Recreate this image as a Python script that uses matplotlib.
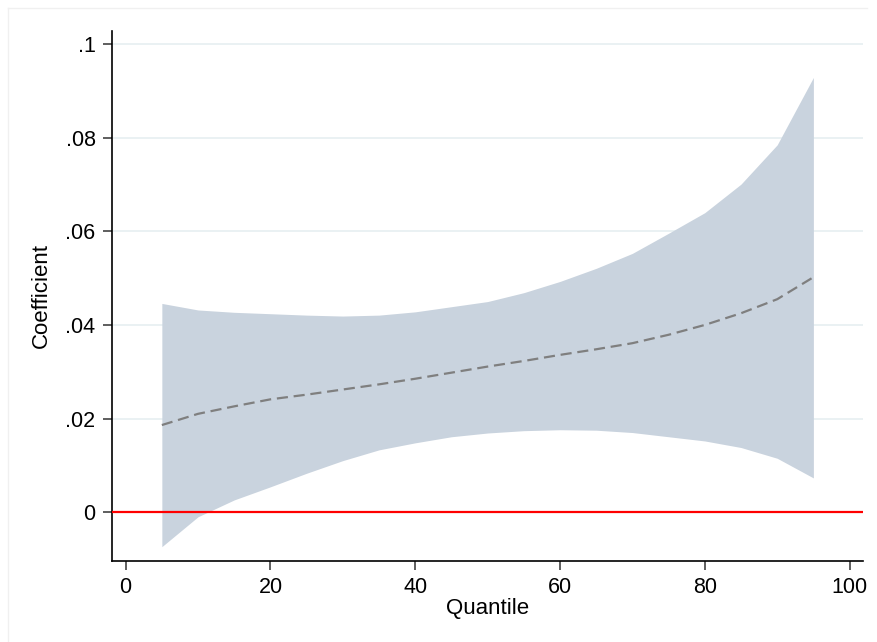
import numpy as np
import matplotlib.pyplot as plt
from matplotlib.lines import Line2D

plt.rcParams['font.family'] = ['Liberation Sans', 'DejaVu Sans']

# quantile regression coefficients with confidence band
quantiles = [5, 10, 15, 20, 25, 30, 35, 40, 45, 50,
             55, 60, 65, 70, 75, 80, 85, 90, 95]
coef = [0.0186, 0.0210, 0.0226, 0.0241, 0.0251, 0.0262, 0.0273, 0.0285, 0.0298, 0.0311,
        0.0323, 0.0336, 0.0348, 0.0361, 0.0379, 0.0400, 0.0425, 0.0455, 0.0502]
upper = [0.0446, 0.0432, 0.0427, 0.0424, 0.0421, 0.0419, 0.0421, 0.0428, 0.0439, 0.0450,
         0.0469, 0.0493, 0.0521, 0.0553, 0.0596, 0.0640, 0.0701, 0.0785, 0.0929]
lower = [-0.0074, -0.0010, 0.0026, 0.0054, 0.0083, 0.0110, 0.0133, 0.0148, 0.0161, 0.0169,
         0.0174, 0.0176, 0.0175, 0.0170, 0.0161, 0.0152, 0.0138, 0.0115, 0.0073]

yticks = [0, 0.02, 0.04, 0.06, 0.08, 0.1]
ytick_labels = ['0', '.02', '.04', '.06', '.08', '.1']
xticks = [0, 20, 40, 60, 80, 100]

fig = plt.figure(figsize=(8.78, 6.42), dpi=100)
ax = fig.add_axes([0.1272, 0.1266, 0.8561, 0.8256])

# faint outer frame (top and left edges) like the stata graph region
fx0, fx1 = 8 / 878, 867 / 878
fy1 = 1 - 8 / 642
fig.add_artist(Line2D([fx0, fx1], [fy1, fy1], transform=fig.transFigure,
                      color='#f0f0f0', linewidth=1))
fig.add_artist(Line2D([fx0, fx0], [0, fy1], transform=fig.transFigure,
                      color='#f0f0f0', linewidth=1))

ax.fill_between(quantiles, lower, upper, color='#c9d3de', linewidth=0, zorder=2)
ax.plot(quantiles, coef, color='#7f7f7f', linestyle=(0, (5, 2.6)), linewidth=1.6, zorder=3)
ax.axhline(0, color='red', linewidth=1.6, zorder=4)

ax.set_xlim(-1.93, 101.9)
ax.set_ylim(-0.0104, 0.1029)
ax.set_yticks(yticks)
ax.set_yticklabels(ytick_labels)
ax.set_xticks(xticks)

ax.grid(axis='y', color='#e6eff1', linewidth=1.2, zorder=1)
ax.set_axisbelow(True)

for s in ['top', 'right']:
    ax.spines[s].set_visible(False)
for s in ['left', 'bottom']:
    ax.spines[s].set_linewidth(1.2)
    ax.spines[s].set_color('black')

ax.tick_params(axis='both', length=6.8, width=1.1, color='#333333',
               labelsize=15.5, pad=4.8)

ax.set_xlabel('Quantile', fontsize=16, labelpad=0)
ax.set_ylabel('Coefficient', fontsize=16, labelpad=10)

plt.savefig('out.png', dpi=100)
